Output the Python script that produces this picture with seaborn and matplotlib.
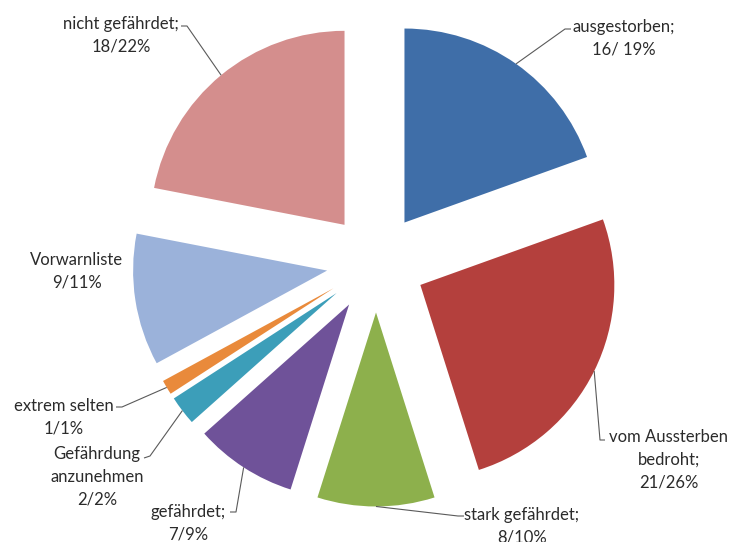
import numpy as np
import matplotlib
matplotlib.use("Agg")
import matplotlib.pyplot as plt
import seaborn as sns

# Rote-Liste-Kategorien (Anzahl Arten und Anteil in %)
categories = ["ausgestorben;", "vom Aussterben\nbedroht;", "stark gefährdet;", "gefährdet;",
              "Gefährdung\nanzunehmen", "extrem selten", "Vorwarnliste", "nicht gefährdet;"]
counts = [16, 21, 8, 7, 2, 1, 9, 18]
percents = [19, 26, 10, 9, 2, 1, 11, 22]
count_sep = ["/ ", "/", "/", "/", "/", "/", "/", "/"]

colors = ["#3F6EA8", "#B4403D", "#8DB04C", "#6F5299",
          "#3C9EB9", "#E98A3B", "#9BB2DA", "#D48E8D"]

sns.set_theme(style="white")
plt.rcParams["font.family"] = ["Lato", "DejaVu Sans"]
palette = sns.color_palette(colors)

W, H = 729, 542
fig = plt.figure(figsize=(W / 100, H / 100), dpi=100)
ax = fig.add_axes([0, 0, 1, 1])

cx, cy, radius = 376, H - 263, 194
# pie() takes explode offsets in data units, so scale them by the radius
explode_frac = 0.255
wedges, _ = ax.pie(counts, colors=palette, startangle=90, counterclock=False,
                   explode=[explode_frac * radius] * len(counts), radius=radius,
                   center=(cx, cy), wedgeprops=dict(linewidth=0))

ax.set_xlim(0, W)
ax.set_ylim(0, H)
ax.set_aspect("equal")
ax.axis("off")

# label text centres and leader-line elbows (pixel coordinates, y from top)
label_pos = [(624, 38), (669, 460), (522, 526), (188, 523),
             (97, 477), (64, 417), (77, 271), (121, 35)]
elbows = [[(565, 29), (571, 29)],
          [(600, 440), (605, 440)],
          [(458, 516), (464, 516)],
          [(236, 512), (230, 512)],
          [(150, 456), (144, 458)],
          [(122, 407), (116, 407)],
          None,
          [(187, 26), (181, 26)]]

text_color = "#2b2b2b"
for w, name, n, p, sep, pos, elb in zip(wedges, categories, counts, percents,
                                        count_sep, label_pos, elbows):
    txt = f"{name}\n{n}{sep}{p}%"
    ax.text(pos[0], H - pos[1], txt, ha="center", va="center", fontsize=12,
            color=text_color, linespacing=1.5)
    if elb is None:
        continue
    mid = np.deg2rad((w.theta1 + w.theta2) / 2)
    ax0 = w.center[0] + w.r * np.cos(mid)
    ay0 = w.center[1] + w.r * np.sin(mid)
    xs = [ax0] + [e[0] for e in elb]
    ys = [ay0] + [H - e[1] for e in elb]
    ax.plot(xs, ys, color="#5a5a5a", linewidth=0.8, solid_capstyle="butt")

fig.savefig("out.png", dpi=100, facecolor="white")
